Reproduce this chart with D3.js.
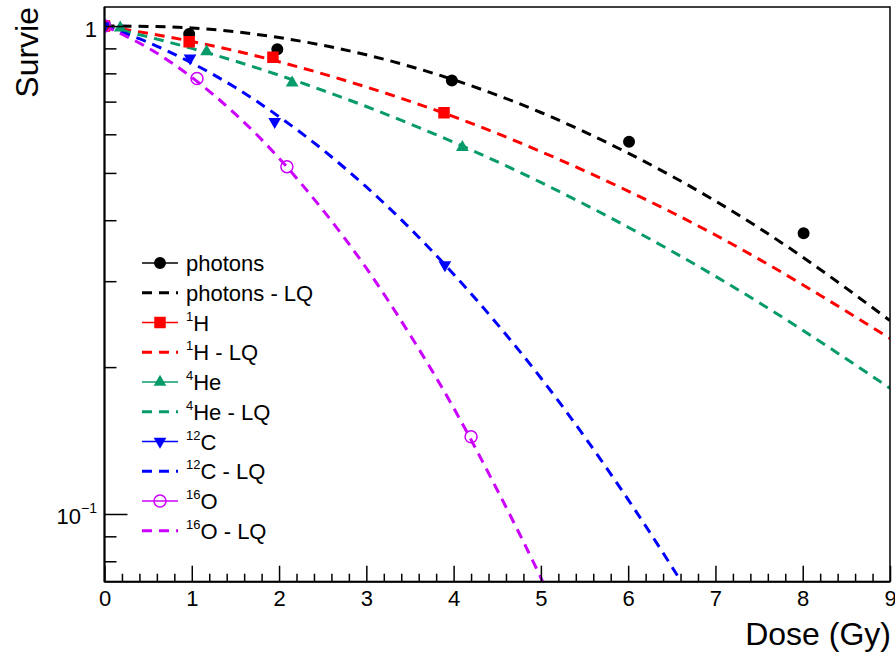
<!DOCTYPE html>
<html>
<head>
<meta charset="utf-8">
<script src="https://cdn.jsdelivr.net/npm/d3@7"></script>
<style>
  body { margin: 0; background: #fff; }
  svg { display: block; font-family: "Liberation Sans", Arial, Helvetica, sans-serif; }
</style>
</head>
<body>
<svg id="chart" width="895" height="655"></svg>
<script>
// Measured survival fractions (dose in Gy)
const photonDose = [0, 0.97, 1.98, 3.98, 6.01, 8.01];
const photonSurv = [1, 0.963, 0.896, 0.773, 0.579, 0.376];
const protonDose = [0, 0.97, 1.93, 3.89];
const protonSurv = [1, 0.929, 0.863, 0.664];
const heliumDose = [0.18, 1.17, 2.15, 4.10];
const heliumSurv = [0.991, 0.886, 0.765, 0.564];
const carbonDose = [0, 0.98, 1.95, 3.90];
const carbonSurv = [1, 0.859, 0.637, 0.324];
const oxygenDose = [0, 1.06, 2.09, 4.20];
const oxygenSurv = [1, 0.781, 0.515, 0.144];

// Linear-quadratic fit curves, sampled
const lqDose = [0, 1, 2, 3, 4, 5, 6, 7, 8, 9];
const photonLQ = [1, 0.991, 0.947, 0.873, 0.776, 0.665, 0.549, 0.438, 0.336, 0.249];
const protonLQ = [1, 0.930, 0.845, 0.750, 0.652, 0.553, 0.459, 0.373, 0.295, 0.229];
const heliumLQ = [1, 0.900, 0.793, 0.684, 0.578, 0.478, 0.387, 0.307, 0.238, 0.181];
const lqDoseFine = [0, 0.5, 1, 1.5, 2, 2.5, 3, 3.5, 4, 4.5, 5, 5.5, 6, 6.5, 7];
const carbonLQ = [1, 0.926, 0.840, 0.748, 0.652, 0.558, 0.468, 0.385, 0.310, 0.245, 0.190, 0.144, 0.107, 0.078, 0.056];
const oxygenLQ = [1, 0.902, 0.785, 0.660, 0.536, 0.420, 0.319, 0.233, 0.165, 0.112, 0.074, 0.047];

// Axis ticks and labels
const xMajorTicks = [0, 1, 2, 3, 4, 5, 6, 7, 8, 9];
const yMajorTicks = [1, 0.1];
const yTickBase = ["1", "10"];
const yTickExp = ["", "\u22121"];
const yMinorTicks = [0.08, 0.09, 0.2, 0.3, 0.4, 0.5, 0.6, 0.7, 0.8, 0.9];
const xTitle = "Dose (Gy)";
const yTitle = "Survie";

// Legend labels (superscript mass number + name)
const legendSup = ["", "", "1", "1", "4", "4", "12", "12", "16", "16"];
const legendText = ["photons", "photons - LQ", "H", "H - LQ", "He", "He - LQ", "C", "C - LQ", "O", "O - LQ"];

const series = [
  { dose: photonDose, surv: photonSurv, fitX: lqDose, fitY: photonLQ, color: "#000000", symbol: d3.symbolCircle, size: 113, rot: 0, open: false },
  { dose: protonDose, surv: protonSurv, fitX: lqDose, fitY: protonLQ, color: "#ff0000", symbol: d3.symbolSquare, size: 132, rot: 0, open: false },
  { dose: heliumDose, surv: heliumSurv, fitX: lqDose, fitY: heliumLQ, color: "#079b6b", symbol: d3.symbolTriangle, size: 70, rot: 0, open: false },
  { dose: carbonDose, surv: carbonSurv, fitX: lqDoseFine, fitY: carbonLQ, color: "#0000ff", symbol: d3.symbolTriangle, size: 70, rot: 180, open: false },
  { dose: oxygenDose, surv: oxygenSurv, fitX: lqDoseFine.slice(0, oxygenLQ.length), fitY: oxygenLQ, color: "#cc00ff", symbol: d3.symbolCircle, size: 113, rot: 0, open: true }
];

const svg = d3.select("#chart");
const plotLeft = 104.5, plotRight = 890, plotTop = 7, plotBottom = 581.7;

const x = d3.scaleLinear().domain([0, 9]).range([plotLeft, plotRight]);
const y = d3.scaleLog().domain([0.07265, 1.094]).range([plotBottom, plotTop]);

svg.append("defs").append("clipPath").attr("id", "plotClip")
  .append("rect").attr("x", plotLeft).attr("y", plotTop)
  .attr("width", plotRight - plotLeft).attr("height", plotBottom - plotTop);

// Curves and markers
const plot = svg.append("g").attr("clip-path", "url(#plotClip)");
const line = d3.line().x(d => x(d[0])).y(d => y(d[1])).curve(d3.curveNatural);

function marker(sel, s) {
  sel.attr("d", d3.symbol().type(s.symbol).size(s.size))
    .attr("fill", s.open ? "none" : s.color)
    .attr("stroke", s.open ? s.color : "none")
    .attr("stroke-width", s.open ? 1.5 : 0);
}

series.forEach(s => {
  plot.append("path")
    .datum(s.fitX.map((d, i) => [d, s.fitY[i]]))
    .attr("d", line)
    .attr("fill", "none")
    .attr("stroke", s.color)
    .attr("stroke-width", 3)
    .attr("stroke-dasharray", "10,7");
});
series.forEach(s => {
  plot.selectAll(null)
    .data(s.dose.map((d, i) => [d, s.surv[i]]))
    .enter().append("path")
    .attr("transform", d => `translate(${x(d[0])},${y(d[1])}) rotate(${s.rot})`)
    .call(marker, s);
});

// X axis (ticks point inward)
const xAxisG = svg.append("g").attr("transform", `translate(0,${plotBottom})`)
  .call(d3.axisBottom(x).tickValues(xMajorTicks).tickSize(-16).tickSizeOuter(0).tickPadding(8.5).tickFormat(d3.format("d")));
const xMinor = d3.range(0, 46).map(i => i / 5).filter(v => Math.abs(v - Math.round(v)) > 1e-6);
svg.append("g").attr("transform", `translate(0,${plotBottom})`)
  .call(d3.axisBottom(x).tickValues(xMinor).tickSize(-8).tickSizeOuter(0).tickFormat(""));

// Y axis (log)
const yAxisG = svg.append("g").attr("transform", `translate(${plotLeft},0)`)
  .call(d3.axisLeft(y).tickValues(yMajorTicks).tickSize(-23).tickSizeOuter(0).tickPadding(7.5).tickFormat(""));
svg.append("g").attr("transform", `translate(${plotLeft},0)`)
  .call(d3.axisLeft(y).tickValues(yMinorTicks).tickSize(-12).tickSizeOuter(0).tickFormat(""));

svg.selectAll(".domain").remove();
svg.selectAll(".tick line").attr("stroke", "#000").attr("stroke-width", 1.5);
xAxisG.selectAll("text").attr("font-size", 22).attr("fill", "#000")
  .attr("font-family", '"Liberation Sans", Arial, sans-serif');

yAxisG.selectAll(".tick text").each(function (d) {
  const t = d3.select(this)
    .attr("font-size", 22).attr("fill", "#000").attr("dy", null)
    .attr("y", 10)
    .attr("font-family", '"Liberation Sans", Arial, sans-serif');
  const k = yMajorTicks.indexOf(d);
  t.append("tspan").text(yTickBase[k]);
  if (yTickExp[k]) t.append("tspan").attr("font-size", 14).attr("dy", -11).text(yTickExp[k]);
});

// Frame
svg.append("rect").attr("x", plotLeft).attr("y", plotTop)
  .attr("width", plotRight - plotLeft).attr("height", plotBottom - plotTop)
  .attr("fill", "none").attr("stroke", "#000").attr("stroke-width", 1.5);
svg.append("line").attr("x1", plotLeft).attr("x2", plotLeft).attr("y1", plotTop).attr("y2", plotBottom)
  .attr("stroke", "#000").attr("stroke-width", 2);
svg.append("line").attr("x1", plotLeft).attr("x2", plotRight).attr("y1", plotBottom).attr("y2", plotBottom)
  .attr("stroke", "#000").attr("stroke-width", 2);

// Axis titles
svg.append("text").attr("x", 891).attr("y", 645).attr("text-anchor", "end")
  .attr("font-size", 32).attr("fill", "#000").text(xTitle);
svg.append("text").attr("transform", "translate(38,7) rotate(-90)").attr("text-anchor", "end")
  .attr("font-size", 32).attr("fill", "#000").text(yTitle);

// Legend
const legend = svg.append("g");
const legY0 = 263, legStep = 29.75;
legendText.forEach((label, i) => {
  const s = series[Math.floor(i / 2)];
  const isFit = i % 2 === 1;
  const cy = legY0 + i * legStep;
  const g = legend.append("g");
  if (isFit) {
    g.append("line").attr("x1", 142).attr("x2", 178).attr("y1", cy).attr("y2", cy)
      .attr("stroke", s.color).attr("stroke-width", 3).attr("stroke-dasharray", "10,7");
  } else {
    g.append("line").attr("x1", 142).attr("x2", 178).attr("y1", cy).attr("y2", cy)
      .attr("stroke", s.color).attr("stroke-width", 1.5);
    g.append("path").attr("transform", `translate(160,${cy}) rotate(${s.rot})`).call(marker, s);
  }
  const t = g.append("text").attr("x", 186).attr("y", cy + 8).attr("font-size", 22).attr("fill", "#000");
  if (legendSup[i]) {
    t.append("tspan").attr("font-size", 13).attr("dy", -10).text(legendSup[i]);
    t.append("tspan").attr("dy", 10).text(label);
  } else {
    t.append("tspan").text(label);
  }
});
</script>
</body>
</html>
